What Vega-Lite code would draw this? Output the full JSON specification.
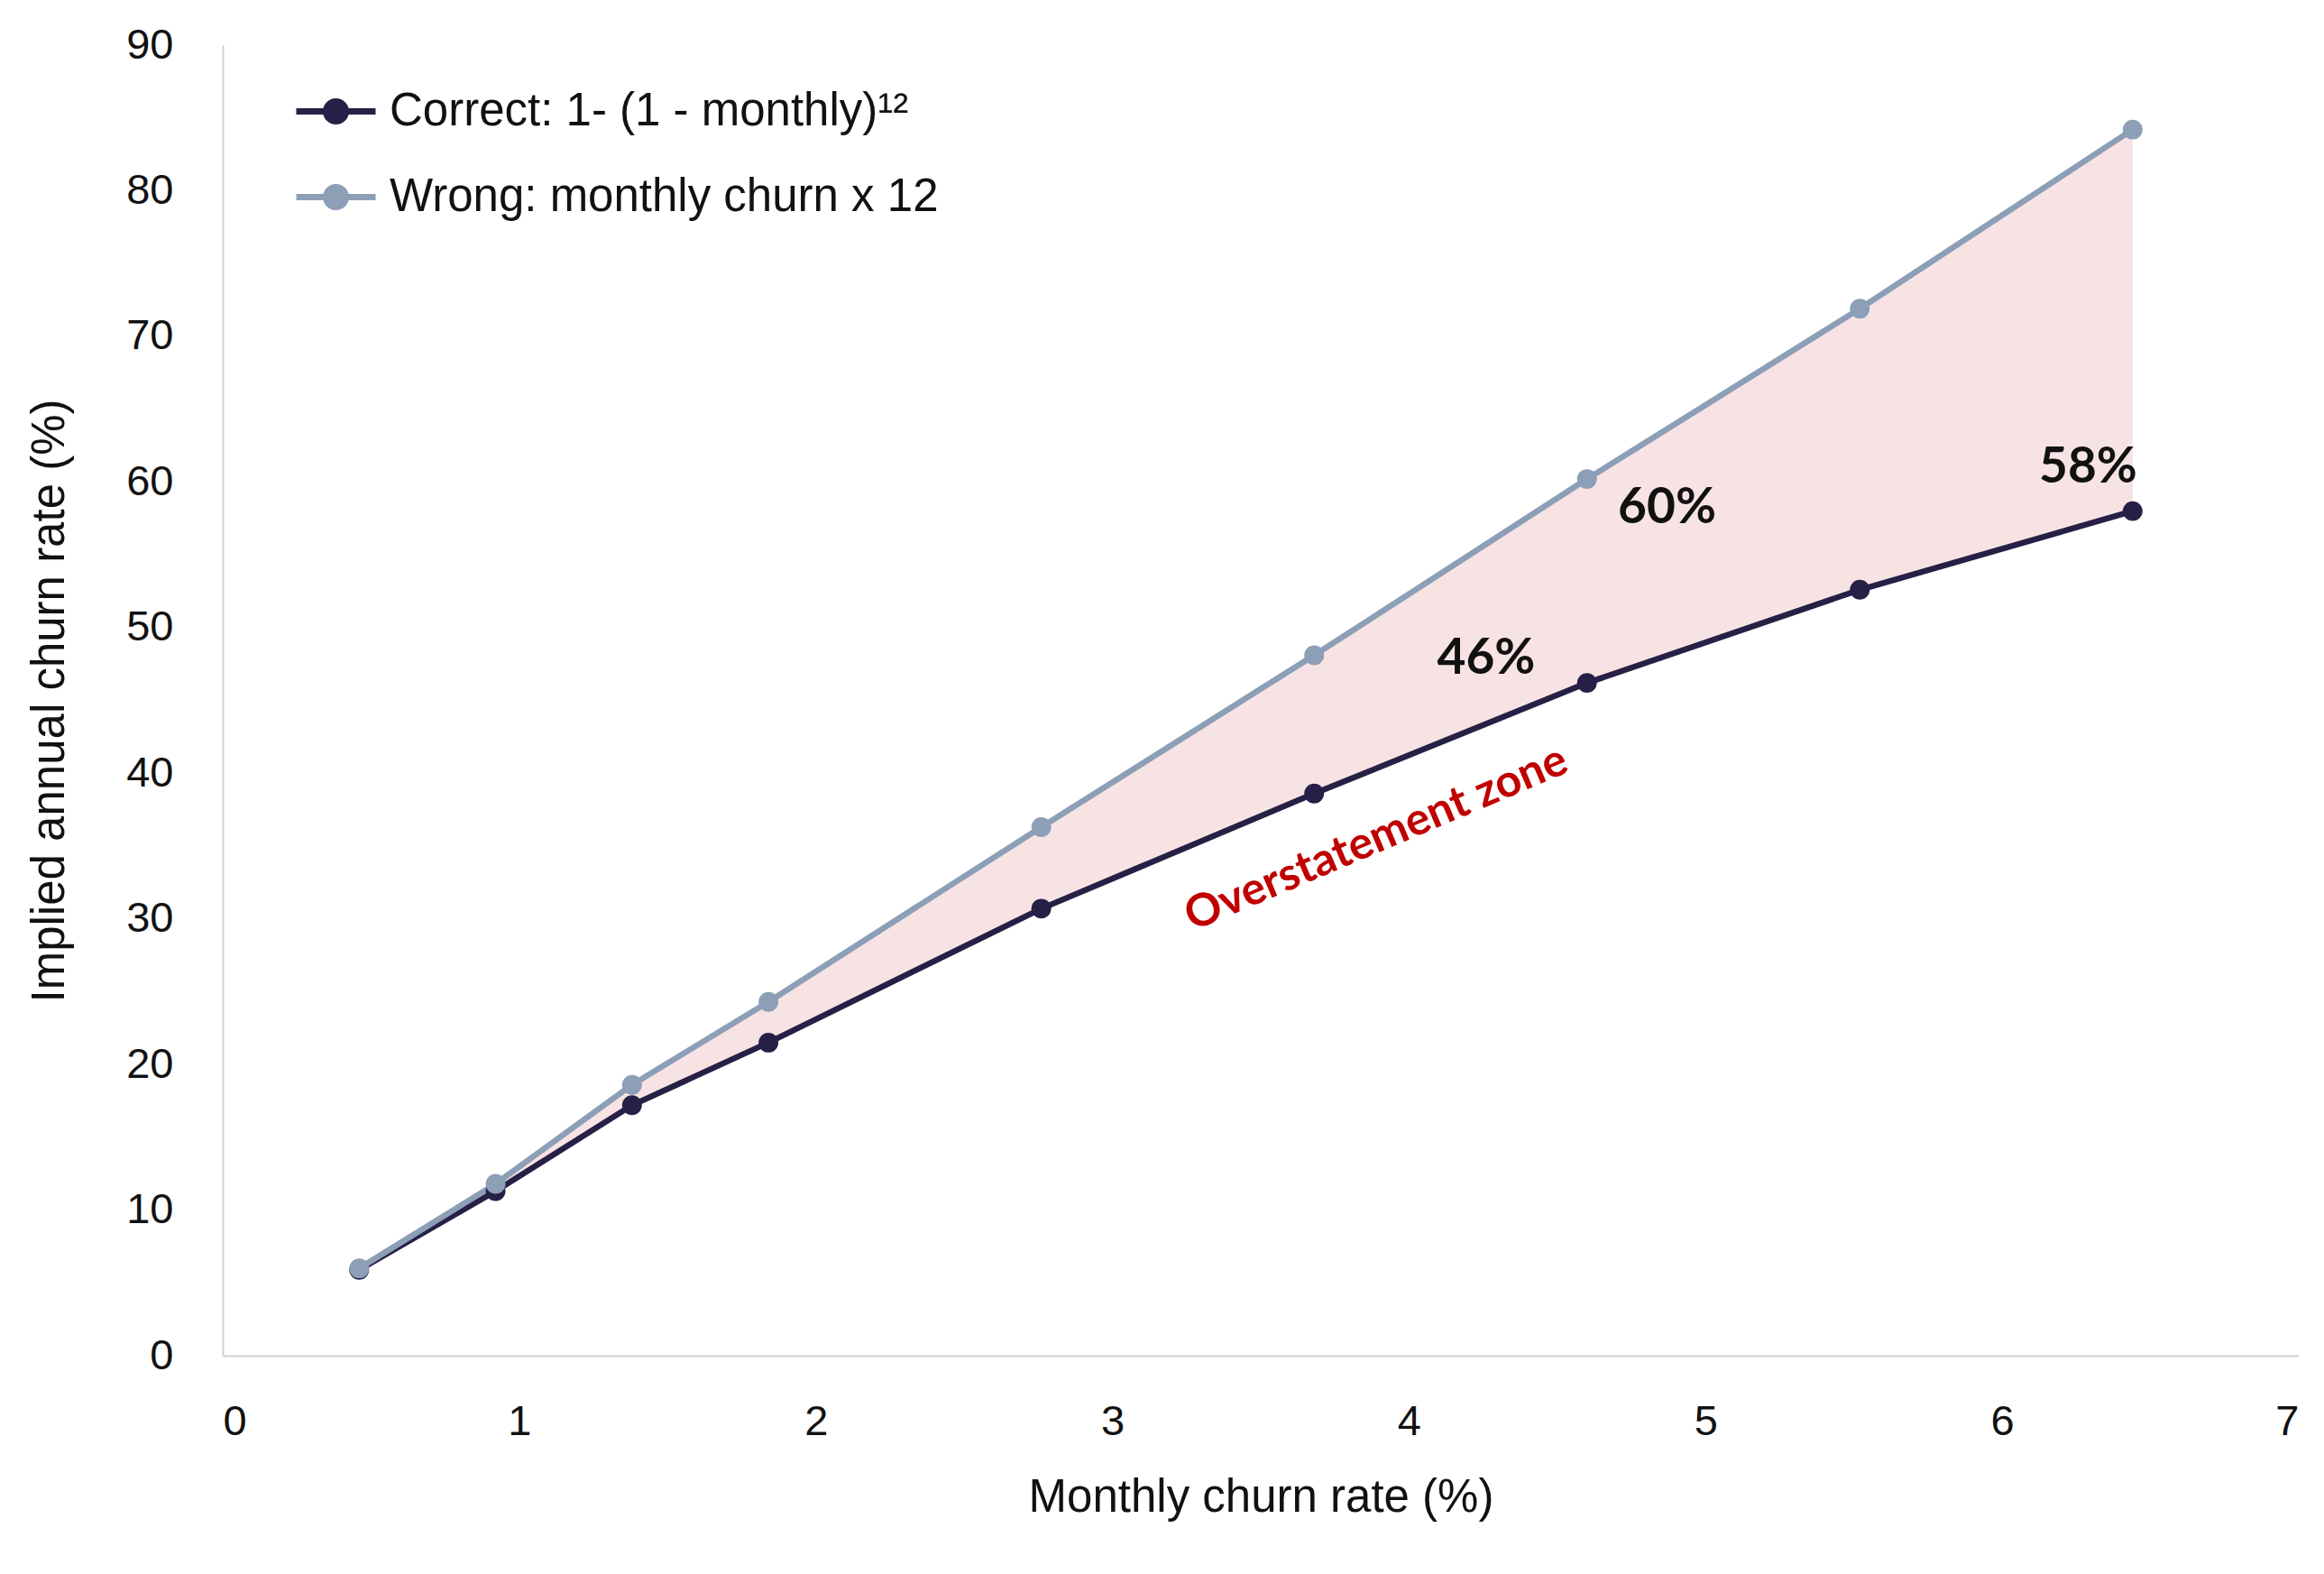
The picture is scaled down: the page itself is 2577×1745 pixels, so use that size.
{
  "$schema": "https://vega.github.io/schema/vega-lite/v6.json",
  "autosize": "none",
  "width": 2302,
  "height": 1453,
  "padding": {"left": 247, "top": 50, "right": 28, "bottom": 242},
  "background": "white",
  "config": {
    "view": {"stroke": null},
    "font": "Liberation Sans",
    "axis": {
      "labelFont": "Liberation Sans",
      "titleFont": "Liberation Sans",
      "labelFontSize": 47,
      "titleFontSize": 51,
      "titleFontWeight": "normal",
      "labelColor": "#111111",
      "titleColor": "#111111",
      "grid": false,
      "ticks": false,
      "domainColor": "#d0d0d0",
      "domainWidth": 2
    }
  },
  "datasets": {
    "churn": [
      {"m": 0.46, "correct": 5.9, "wrong": 6.0},
      {"m": 0.92, "correct": 11.3, "wrong": 11.8},
      {"m": 1.38, "correct": 17.2, "wrong": 18.6},
      {"m": 1.84, "correct": 21.5, "wrong": 24.3},
      {"m": 2.76, "correct": 30.7, "wrong": 36.3},
      {"m": 3.68, "correct": 38.6, "wrong": 48.1},
      {"m": 4.6, "correct": 46.2, "wrong": 60.2},
      {"m": 5.52, "correct": 52.6, "wrong": 71.9},
      {"m": 6.44, "correct": 58.0, "wrong": 84.2}
    ],
    "labels": [
      {"x": 4.26, "y": 47.9, "text": "46%"},
      {"x": 4.87, "y": 58.2, "text": "60%"},
      {"x": 6.29, "y": 61.0, "text": "58%"}
    ],
    "zone": [
      {"x": 3.89, "y": 35.5, "text": "Overstatement zone"}
    ]
  },
  "layer": [
    {
      "data": {"name": "churn"},
      "mark": {"type": "area", "color": "#f8e3e4", "opacity": 1},
      "encoding": {
        "x": {"field": "m", "type": "quantitative", "scale": {"domain": [0, 7]},
          "axis": {"title": "Monthly churn rate (%)", "values": [0,1,2,3,4,5,6,7], "labelPadding": 50, "titlePadding": 36, "format": "d"}},
        "y": {"field": "wrong", "type": "quantitative", "scale": {"domain": [0, 90]},
          "axis": {"title": "Implied annual churn rate (%)", "values": [0,10,20,30,40,50,60,70,80,90], "labelPadding": 55, "titlePadding": 58, "format": "d"}},
        "y2": {"field": "correct"}
      }
    },
    {
      "data": {"name": "churn"},
      "transform": [
        {"fold": ["correct", "wrong"], "as": ["series", "value"]}
      ],
      "encoding": {
        "x": {"field": "m", "type": "quantitative"},
        "y": {"field": "value", "type": "quantitative"},
        "color": {
          "field": "series", "type": "nominal",
          "scale": {"domain": ["correct", "wrong"], "range": ["#262046", "#8c9fb7"]},
          "legend": {
            "title": null,
            "orient": "none",
            "legendX": 78,
            "legendY": 26,
            "labelExpr": "datum.value == 'correct' ? 'Correct: 1- (1 - monthly)¹²' : 'Wrong: monthly churn x 12'",
            "labelFont": "Liberation Sans",
            "labelFontSize": 51,
            "labelColor": "#111111",
            "labelLimit": 1200,
            "labelOffset": 12,
            "rowPadding": 22,
            "symbolType": "M-1,0L1,0M-0.25,0A0.25,0.25,0,1,0,0.25,0A0.25,0.25,0,1,0,-0.25,0Z",
            "symbolSize": 7744,
            "symbolStrokeWidth": 7,
            "encode": {
              "symbols": {
                "update": {
                  "fill": {"scale": "color", "field": "value"},
                  "stroke": {"scale": "color", "field": "value"},
                  "strokeWidth": {"value": 7},
                  "opacity": {"value": 1}
                }
              }
            }
          }
        },
        "order": {"field": "series"}
      },
      "layer": [
        {"mark": {"type": "line", "strokeWidth": 6.5}},
        {"mark": {"type": "point", "filled": true, "size": 480, "opacity": 1}}
      ]
    },
    {
      "data": {"name": "labels"},
      "mark": {"type": "text", "font": "Lato", "fontWeight": "bold", "fontSize": 55, "color": "#111111", "align": "center", "baseline": "middle"},
      "encoding": {
        "x": {"field": "x", "type": "quantitative"},
        "y": {"field": "y", "type": "quantitative"},
        "text": {"field": "text"}
      }
    },
    {
      "data": {"name": "zone"},
      "mark": {"type": "text", "font": "Lato", "fontWeight": "bold", "fontSize": 50, "color": "#c00000", "align": "center", "baseline": "middle", "angle": -23},
      "encoding": {
        "x": {"field": "x", "type": "quantitative"},
        "y": {"field": "y", "type": "quantitative"},
        "text": {"field": "text"}
      }
    }
  ]
}
